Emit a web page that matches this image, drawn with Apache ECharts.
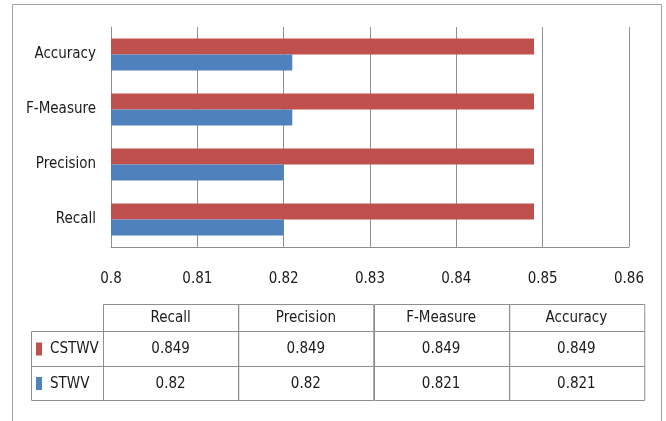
<!DOCTYPE html>
<html>
<head>
<meta charset="utf-8">
<script src="https://cdn.jsdelivr.net/npm/echarts@6/dist/echarts.min.js"></script>
<style>
  html, body { margin: 0; padding: 0; background: #fff; }
  #main { width: 666px; height: 421px; }
</style>
</head>
<body>
<div id="main"></div>
<script>
// categories (bottom to top in the chart, left to right in the table)
const categories = ['Recall', 'Precision', 'F-Measure', 'Accuracy']
const seriesNames = ['CSTWV', 'STWV']
const cstwvValues = [0.849, 0.849, 0.849, 0.849]
const stwvValues = [0.82, 0.82, 0.821, 0.821]
const seriesColors = ['#c0504d', '#4f81bd']

const FONT = '"DejaVu Sans Condensed", "Liberation Sans Narrow", "DejaVu Sans", sans-serif'
const TEXT_COLOR = '#1a1a1a'
const LINE_COLOR = '#8f8f8f'

var myChart = echarts.init(document.getElementById('main'))

// data table under the chart
function buildTable () {
  const left = 31, headLeft = 103, right = 644
  const colW = (right - headLeft) / categories.length
  const rowY = [304, 331, 366, 400]
  const children = []
  const lineStyle = { fill: null, stroke: LINE_COLOR, lineWidth: 1 }

  // header row
  categories.forEach(function (c, i) {
    const x = headLeft + i * colW
    children.push({ type: 'rect', shape: { x: Math.round(x) + 0.5, y: rowY[0] + 0.5, width: colW, height: rowY[1] - rowY[0] }, style: lineStyle })
    children.push({ type: 'text', style: { text: c, x: x + colW / 2, y: (rowY[0] + rowY[1]) / 2 + 1, align: 'center', verticalAlign: 'middle', fill: TEXT_COLOR, font: '15px ' + FONT } })
  })

  const rows = [cstwvValues, stwvValues]
  rows.forEach(function (vals, r) {
    const y0 = rowY[r + 1], y1 = rowY[r + 2]
    children.push({ type: 'rect', shape: { x: left + 0.5, y: y0 + 0.5, width: headLeft - left, height: y1 - y0 }, style: lineStyle })
    // legend key
    children.push({ type: 'rect', shape: { x: 36, y: (y0 + y1) / 2 - 6, width: 6, height: 13 }, style: { fill: seriesColors[r] } })
    children.push({ type: 'text', style: { text: seriesNames[r], x: 50, y: (y0 + y1) / 2 + 1, align: 'left', verticalAlign: 'middle', fill: TEXT_COLOR, font: '15px ' + FONT } })
    vals.forEach(function (v, i) {
      const x = headLeft + i * colW
      children.push({ type: 'rect', shape: { x: Math.round(x) + 0.5, y: y0 + 0.5, width: colW, height: y1 - y0 }, style: lineStyle })
      children.push({ type: 'text', style: { text: String(v), x: x + colW / 2, y: (y0 + y1) / 2 + 1, align: 'center', verticalAlign: 'middle', fill: TEXT_COLOR, font: '15px ' + FONT } })
    })
  })

  // outer frame of the whole chart area
  children.push({ type: 'rect', shape: { x: 12.5, y: 4.5, width: 649, height: 440 }, style: { fill: null, stroke: '#a0a0a0', lineWidth: 1 } })
  return children
}

var option = {
  backgroundColor: '#fff',
  animation: false,
  grid: { left: 111, top: 27, width: 518, height: 220, containLabel: false },
  xAxis: {
    type: 'value',
    min: 0.8,
    max: 0.86,
    interval: 0.01,
    axisLine: { show: true, lineStyle: { color: LINE_COLOR, width: 1 } },
    axisTick: { show: false },
    axisLabel: { color: TEXT_COLOR, fontSize: 15, fontFamily: FONT, margin: 25 },
    splitLine: { show: true, lineStyle: { color: LINE_COLOR, width: 1 } }
  },
  yAxis: {
    type: 'category',
    data: categories,
    axisLine: { show: true, lineStyle: { color: LINE_COLOR, width: 1 } },
    axisTick: { show: false },
    axisLabel: { color: TEXT_COLOR, fontSize: 15, fontFamily: FONT, margin: 15 },
    splitLine: { show: false }
  },
  series: [
    {
      name: seriesNames[0],
      type: 'bar',
      data: cstwvValues,
      barWidth: 16,
      barGap: '0%',
      itemStyle: { color: seriesColors[0] }
    },
    {
      name: seriesNames[1],
      type: 'bar',
      data: stwvValues,
      barWidth: 16,
      barGap: '0%',
      itemStyle: { color: seriesColors[1] }
    }
  ],
  graphic: { elements: buildTable() }
}

myChart.setOption(option)
</script>
</body>
</html>
